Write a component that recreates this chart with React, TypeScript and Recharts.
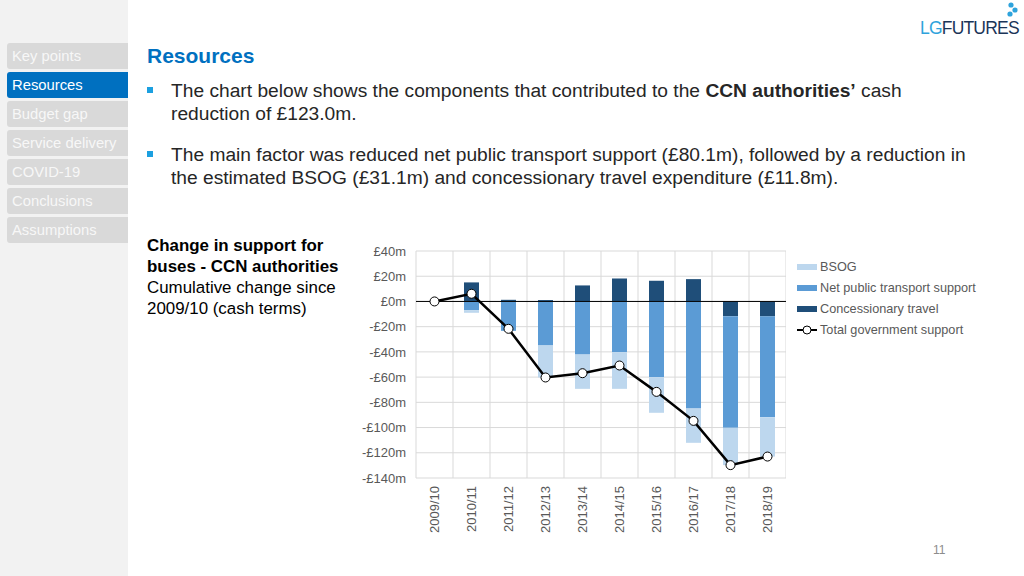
import React from 'react';
import { ComposedChart, Bar, Line, XAxis, YAxis, CartesianGrid, ReferenceLine } from 'recharts';

const years = ['2009/10', '2010/11', '2011/12', '2012/13', '2013/14', '2014/15', '2015/16', '2016/17', '2017/18', '2018/19'];
const bsog = [0, -2.1, 0, -25.4, -27.2, -29.1, -28.3, -27.2, -29.6, -31.1];
const netTransport = [0, -6.9, -23.3, -34.9, -42.1, -40.2, -60.0, -84.9, -88.5, -80.1];
const concessionary = [0, 15.1, 1.3, 1.1, 12.7, 18.2, 16.4, 17.7, -11.7, -11.8];
const totalSupport = [0, 6.1, -21.7, -60.3, -56.9, -50.8, -71.7, -94.7, -129.8, -123.0];
const yTicks = [40, 20, 0, -20, -40, -60, -80, -100, -120, -140];

const navItems = ['Key points', 'Resources', 'Budget gap', 'Service delivery', 'COVID-19', 'Conclusions', 'Assumptions'];

const data = years.map((year, i) => ({
  year,
  bsog: bsog[i],
  net: netTransport[i],
  conc: concessionary[i],
  total: totalSupport[i],
}));

const FONT = '"Liberation Sans", Arial, sans-serif';
const C_BSOG = '#BDD7EE';
const C_NET = '#5B9BD5';
const C_CONC = '#1F4E79';

const fmtMoney = (v: number) => (v < 0 ? `-£${Math.abs(v)}m` : `£${v}m`);

const YearTick = (props: any) => {
  const { x, y, payload } = props;
  return (
    <text
      x={x}
      y={y}
      transform={`rotate(-90, ${x}, ${y})`}
      textAnchor="end"
      dominantBaseline="central"
      fill="#595959"
      fontSize={13}
      fontFamily={FONT}
    >
      {payload.value}
    </text>
  );
};

const legendItems = [
  { label: 'BSOG', color: C_BSOG, line: false },
  { label: 'Net public transport support', color: C_NET, line: false },
  { label: 'Concessionary travel', color: C_CONC, line: false },
  { label: 'Total government support', color: '#000', line: true },
];

const ChartLegend = () => (
  <div style={{ position: 'absolute', left: 796, top: 256, fontFamily: FONT, fontSize: 12.7, color: '#595959' }}>
    {legendItems.map((item) => (
      <div key={item.label} style={{ display: 'flex', alignItems: 'center', height: 21 }}>
        <svg width={22} height={12} style={{ marginRight: 2 }}>
          {item.line ? (
            <>
              <line x1={1} y1={6} x2={21} y2={6} stroke="#000" strokeWidth={2} />
              <circle cx={11} cy={6} r={4} fill="#fff" stroke="#000" strokeWidth={1} />
            </>
          ) : (
            <rect x={1} y={3} width={20} height={6} fill={item.color} />
          )}
        </svg>
        <span>{item.label}</span>
      </div>
    ))}
  </div>
);

const App = () => {
  return (
    <div style={{ position: 'fixed', left: 0, top: 0, width: 1024, height: 576, background: '#fff', overflow: 'hidden', fontFamily: FONT }}>
      {/* side navigation */}
      <div style={{ position: 'absolute', left: 0, top: 0, width: 128, height: 576, background: '#F2F2F2' }} />
      {navItems.map((item, i) => (
        <div
          key={item}
          style={{
            position: 'absolute',
            left: 7,
            top: 43 + i * 29,
            width: 121,
            height: 26,
            lineHeight: '26px',
            paddingLeft: 5,
            boxSizing: 'border-box',
            borderRadius: '3px 0 0 3px',
            background: item === 'Resources' ? '#0070C0' : '#D9D9D9',
            color: item === 'Resources' ? '#fff' : '#F7F7F7',
            fontSize: 14.8,
            whiteSpace: 'nowrap',
          }}
        >
          {item}
        </div>
      ))}

      {/* logo */}
      <svg style={{ position: 'absolute', left: 915, top: 0 }} width={109} height={40}>
        <circle cx={96} cy={5} r={2.6} fill="#2EA3DC" />
        <circle cx={100} cy={10} r={2.6} fill="#2EA3DC" />
        <circle cx={95} cy={14} r={2.6} fill="#2EA3DC" />
        <text x={5} y={34} fontFamily={FONT} fontSize={17.5} letterSpacing={-0.8}>
          <tspan fill="#2EA3DC">LG</tspan>
          <tspan fill="#1B3558">FUTURES</tspan>
        </text>
      </svg>

      {/* heading and bullets */}
      <div style={{ position: 'absolute', left: 147, top: 44, fontSize: 21, fontWeight: 'bold', color: '#0070C0' }}>Resources</div>
      <div style={{ position: 'absolute', left: 147, top: 79, width: 860, fontSize: 19.2, lineHeight: '23px', color: '#262626', whiteSpace: 'nowrap' }}>
        <span style={{ position: 'absolute', left: 0, top: 8, width: 6, height: 6, background: '#1CA0E0' }} />
        <div style={{ paddingLeft: 24 }}>
          The chart below shows the components that contributed to the <b>CCN authorities’</b> cash<br />
          reduction of £123.0m.
        </div>
      </div>
      <div style={{ position: 'absolute', left: 147, top: 143, width: 860, fontSize: 19.2, lineHeight: '23px', color: '#262626', whiteSpace: 'nowrap' }}>
        <span style={{ position: 'absolute', left: 0, top: 8, width: 6, height: 6, background: '#1CA0E0' }} />
        <div style={{ paddingLeft: 24 }}>
          The main factor was reduced net public transport support (£80.1m), followed by a reduction in<br />
          the estimated BSOG (£31.1m) and concessionary travel expenditure (£11.8m).
        </div>
      </div>

      {/* chart caption */}
      <div style={{ position: 'absolute', left: 147, top: 235, fontSize: 16.9, lineHeight: '21px', color: '#000', whiteSpace: 'nowrap' }}>
        <b>Change in support for<br />buses - CCN authorities</b>
        <br />Cumulative change since<br />2009/10 (cash terms)
      </div>

      {/* chart */}
      <div style={{ position: 'absolute', left: 340, top: 240 }}>
        <ComposedChart
          width={446}
          height={300}
          data={data}
          stackOffset="sign"
          margin={{ top: 11, right: 0, bottom: 0, left: 0 }}
        >
          <CartesianGrid
            stroke="#D9D9D9"
            verticalCoordinatesGenerator={({ offset }: any) =>
              Array.from({ length: years.length + 1 }, (_, i) => offset.left + (offset.width * i) / years.length)
            }
          />
          <XAxis
            dataKey="year"
            interval={0}
            axisLine={false}
            tickLine={false}
            tickSize={0}
            tickMargin={8}
            height={62}
            tick={<YearTick />}
          />
          <YAxis
            domain={[-140, 40]}
            ticks={yTicks}
            interval={0}
            width={76}
            axisLine={false}
            tickLine={false}
            tickSize={0}
            tickMargin={10}
            tickFormatter={fmtMoney}
            tick={{ fill: '#595959', fontSize: 13, fontFamily: FONT }}
          />
          <ReferenceLine y={0} stroke="#000" strokeWidth={1} />
          <Bar dataKey="conc" stackId="a" fill={C_CONC} barSize={15} isAnimationActive={false} />
          <Bar dataKey="net" stackId="a" fill={C_NET} barSize={15} isAnimationActive={false} />
          <Bar dataKey="bsog" stackId="a" fill={C_BSOG} barSize={15} isAnimationActive={false} />
          <Line
            dataKey="total"
            type="linear"
            stroke="#000"
            strokeWidth={2.5}
            dot={{ r: 4.5, fill: '#fff', stroke: '#000', strokeWidth: 1 }}
            activeDot={false}
            isAnimationActive={false}
          />
        </ComposedChart>
      </div>
      <ChartLegend />

      <div style={{ position: 'absolute', left: 933, top: 543, fontSize: 12, color: '#8C8C8C' }}>11</div>
    </div>
  );
};

export default App;
